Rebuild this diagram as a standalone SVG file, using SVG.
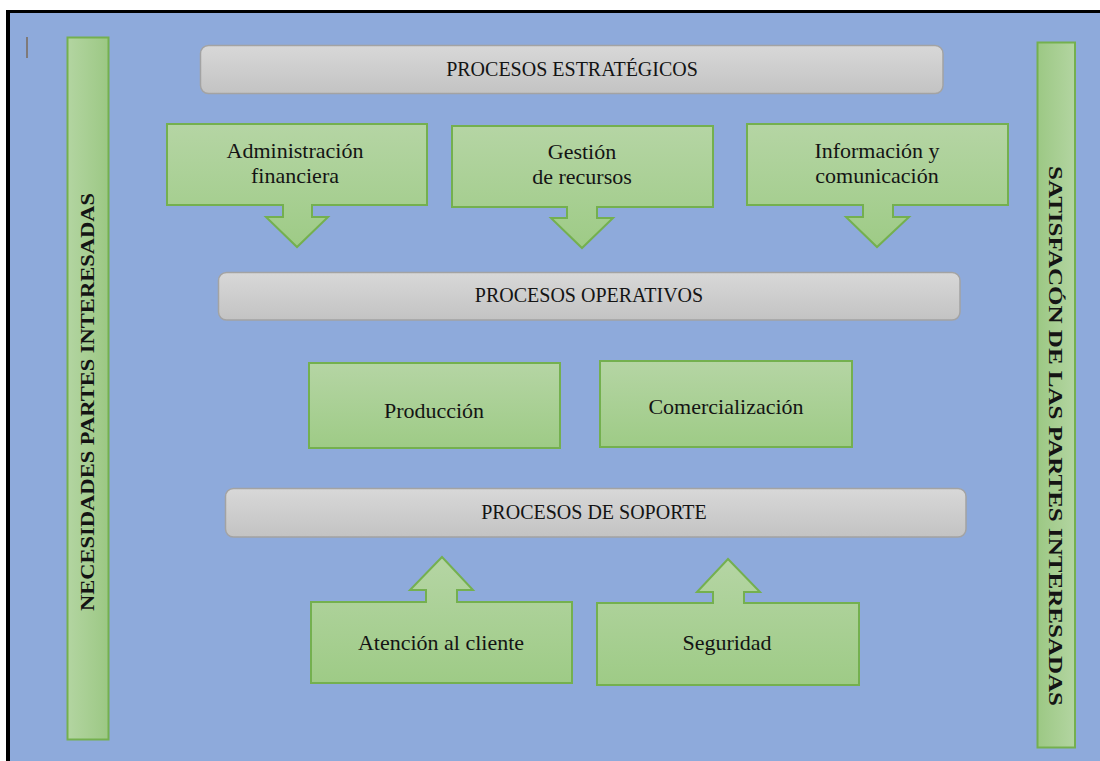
<svg xmlns="http://www.w3.org/2000/svg" width="1100" height="761" viewBox="0 0 1100 761">
  <style>
    .txt { font-family: "Liberation Serif", "Times New Roman", serif; font-size: 20px; fill: #141414; text-anchor: middle; }
    .btxt { font-family: "Liberation Serif", "Times New Roman", serif; font-size: 22px; fill: #141414; text-anchor: middle; }
    .vtxt { font-family: "Liberation Serif", "Times New Roman", serif; font-size: 19px; font-weight: bold; fill: #141414; text-anchor: middle; }
    .green { fill: url(#gGreen); stroke: #74b04f; stroke-width: 2; stroke-linejoin: miter; }
    .gray { fill: url(#gGray); stroke: #a3a3a3; stroke-width: 1.5; }
  </style>
  <defs>
    <linearGradient id="gGreen" x1="0" y1="0" x2="0" y2="1">
      <stop offset="0" stop-color="#b5d5a4"/>
      <stop offset="1" stop-color="#9ecb86"/>
    </linearGradient>
    <linearGradient id="gGreenL" x1="0" y1="0" x2="1" y2="0">
      <stop offset="0" stop-color="#b3d5a1"/>
      <stop offset="1" stop-color="#9cc884"/>
    </linearGradient>
    <linearGradient id="gGreenR" x1="0" y1="0" x2="1" y2="0">
      <stop offset="0" stop-color="#9cc884"/>
      <stop offset="1" stop-color="#b3d5a1"/>
    </linearGradient>
    <linearGradient id="gGray" x1="0" y1="0" x2="0" y2="1">
      <stop offset="0" stop-color="#d8d8d8"/>
      <stop offset="1" stop-color="#c3c3c3"/>
    </linearGradient>
  </defs>

  <!-- page / frame -->
  <rect x="0" y="0" width="1100" height="761" fill="#ffffff"/>
  <rect x="8" y="11.5" width="1092" height="749.5" fill="#8eaadb"/>
  <line x1="6" y1="11.5" x2="1100" y2="11.5" stroke="#000" stroke-width="3"/>
  <line x1="8" y1="10" x2="8" y2="761" stroke="#000" stroke-width="4"/>
  <line x1="27" y1="37" x2="27" y2="58" stroke="#7a6a58" stroke-width="1.5"/>

  <g id="necesidades">
    <rect x="67.5" y="37.5" width="41" height="702" fill="url(#gGreenL)" stroke="#74b04f" stroke-width="2"/>
    <text class="vtxt" transform="translate(94,402) rotate(-90)" textLength="418" lengthAdjust="spacingAndGlyphs">NECESIDADES PARTES INTERESADAS</text>
  </g>

  <g id="satisfaccion">
    <rect x="1037.5" y="42.5" width="37.5" height="705" fill="url(#gGreenR)" stroke="#74b04f" stroke-width="2"/>
    <text class="vtxt" transform="translate(1049,436) rotate(90)" textLength="540" lengthAdjust="spacingAndGlyphs">SATISFACÓN DE LAS PARTES INTERESADAS</text>
  </g>

  <g id="estrategicos">
    <rect class="gray" x="200.5" y="45.5" width="742.5" height="48" rx="8"/>
    <text class="txt" x="572" y="76">PROCESOS ESTRATÉGICOS</text>
  </g>

  <g id="administracion">
    <path class="green" d="M167,124 H427 V205 H312 V217 H328 L297,247 L266,217 H283 V205 H167 Z"/>
    <text class="btxt" x="295" y="158">Administración</text>
    <text class="btxt" x="295" y="183">financiera</text>
  </g>

  <g id="gestion">
    <path class="green" d="M452,126 H713 V207 H597 V218 H613 L582,248 L551,218 H567 V207 H452 Z"/>
    <text class="btxt" x="582" y="159">Gestión</text>
    <text class="btxt" x="582" y="184">de recursos</text>
  </g>

  <g id="informacion">
    <path class="green" d="M747,124 H1008 V205 H893 V217 H909 L877,247 L846,217 H863 V205 H747 Z"/>
    <text class="btxt" x="877" y="158">Información y</text>
    <text class="btxt" x="877" y="183">comunicación</text>
  </g>

  <g id="operativos">
    <rect class="gray" x="218.5" y="272.5" width="741.5" height="47.5" rx="8"/>
    <text class="txt" x="589" y="302">PROCESOS OPERATIVOS</text>
  </g>

  <g id="produccion">
    <rect class="green" x="309" y="363" width="251" height="85"/>
    <text class="btxt" x="434" y="418">Producción</text>
  </g>

  <g id="comercializacion">
    <rect class="green" x="600" y="361" width="252" height="86"/>
    <text class="btxt" x="726" y="414">Comercialización</text>
  </g>

  <g id="soporte">
    <rect class="gray" x="225.5" y="488.5" width="740.5" height="48.5" rx="8"/>
    <text class="txt" x="594" y="519">PROCESOS DE SOPORTE</text>
  </g>

  <g id="atencion">
    <path class="green" d="M311,602 H426 V590 H410 L442,557 L473,590 H457 V602 H572 V683 H311 Z"/>
    <text class="btxt" x="441" y="650">Atención al cliente</text>
  </g>

  <g id="seguridad">
    <path class="green" d="M597,603 H713 V592 H697 L728,559 L760,592 H744 V603 H859 V685 H597 Z"/>
    <text class="btxt" x="727" y="650">Seguridad</text>
  </g>

  <g id="connectors"></g>
</svg>
